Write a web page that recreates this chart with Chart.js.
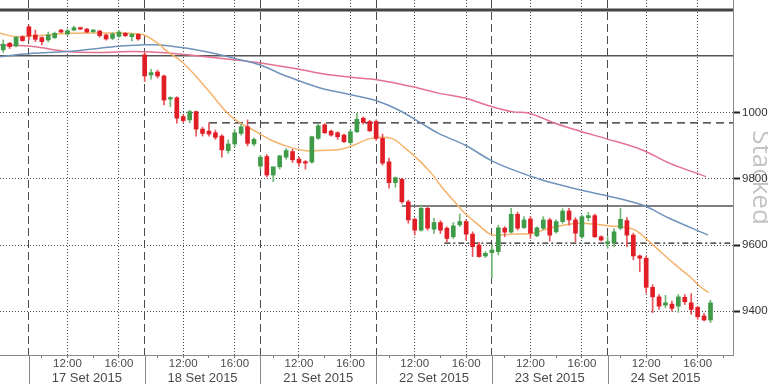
<!DOCTYPE html>
<html><head><meta charset="utf-8">
<script src="https://cdn.jsdelivr.net/npm/chart.js@4.4.0/dist/chart.umd.min.js"></script>
<style>html,body{margin:0;padding:0;background:#fff;overflow:hidden}#wrap{width:768px;height:384px;position:relative}canvas{display:block}</style>
</head><body>
<div id="wrap"><canvas id="c"></canvas></div>
<script>
// ---- data ----
const dayLabels = ['17 Set 2015','18 Set 2015','21 Set 2015','22 Set 2015','23 Set 2015','24 Set 2015'];
const timeLabels = ['12:00','16:00'];
const minorTimes = ['10:00','14:00'];
const yTickValues = [9400, 9600, 9800, 10000];
const leadCandles = 4; // 16 Set 16:00-17:30 visible before first day

const open = [10191,10211,10203,10231,
 10261,10236,10228,10221,10228,10251,10239,10251,10258,10254,10246,10248,10236,10226,10232,10241,10231,10238,
 10176,10115,10124,10112,10042,10046,9989,9979,10004,9951,9945,9940,9930,9886,9906,9938,9958,9906,
 9839,9868,9812,9837,9866,9883,9860,9852,9851,9923,9964,9945,9940,9933,9910,9943,9984,9974,
 9974,9923,9852,9789,9799,9731,9678,9645,9711,9648,9668,9651,9625,9661,9671,9633,9600,9567,
 9577,9580,9651,9639,9693,9653,9679,9628,9651,9676,9640,9671,9703,9676,9625,9683,9689,9625,
 9604,9607,9651,9674,9630,9567,9560,9472,9443,9418,9421,9415,9442,9425,9411,9385,9373];
const high = [10221,10214,10233,10234,
 10264,10251,10231,10245,10245,10253,10254,10263,10260,10256,10253,10250,10239,10243,10250,10244,10241,10240,
 10181,10132,10130,10115,10049,10049,9994,10008,10006,9957,9970,9948,9934,9918,9950,9966,9979,9925,
 9872,9874,9820,9872,9892,9890,9866,9856,9930,9966,9968,9948,9943,9936,9948,9999,9988,9978,
 9979,9936,9863,9806,9803,9736,9682,9721,9715,9681,9674,9655,9668,9694,9676,9640,9608,9580,
 9600,9660,9656,9711,9700,9686,9686,9655,9686,9681,9676,9710,9711,9683,9691,9699,9694,9628,
 9625,9650,9711,9683,9636,9570,9566,9480,9450,9448,9430,9450,9450,9453,9415,9393,9433];
const low = [10183,10195,10200,10217,
 10221,10216,10206,10215,10225,10243,10235,10249,10252,10243,10243,10229,10220,10222,10229,10231,10218,10220,
 10095,10102,10106,10024,10019,9969,9971,9970,9930,9930,9930,9920,9866,9878,9898,9933,9900,9900,
 9830,9806,9792,9830,9860,9850,9838,9830,9848,9920,9938,9930,9920,9910,9906,9940,9966,9943,
 9917,9842,9772,9775,9726,9666,9630,9642,9645,9635,9635,9610,9620,9656,9615,9565,9563,9562,
 9500,9570,9625,9636,9645,9650,9620,9625,9646,9612,9636,9666,9660,9610,9620,9673,9623,9612,
 9590,9595,9646,9595,9555,9519,9454,9395,9405,9410,9400,9396,9420,9390,9375,9370,9365];
const close = [10208,10201,10229,10219,
 10233,10223,10216,10236,10241,10245,10249,10258,10254,10245,10251,10234,10224,10239,10245,10234,10238,10224,
 10112,10122,10112,10039,10046,9984,9977,10004,9951,9938,9936,9926,9888,9906,9940,9958,9908,9920,
 9866,9812,9837,9870,9886,9858,9849,9848,9928,9961,9940,9933,9928,9913,9943,9981,9971,9946,
 9923,9848,9789,9804,9731,9676,9645,9711,9651,9668,9645,9620,9658,9671,9633,9595,9565,9575,
 9585,9652,9639,9693,9651,9676,9636,9652,9676,9630,9671,9703,9676,9636,9686,9689,9625,9615,
 9610,9640,9678,9630,9567,9560,9472,9443,9415,9425,9408,9443,9428,9405,9383,9373,9425];

// moving averages: [candle position, value]
const maOrange = [[-0.5,10241],[1.8,10231],[4,10232],[10.4,10241],[19.7,10241],[21.9,10236],[24.4,10206],[25.2,10191],[28,10151],
 [31.8,10070],[34.9,9999],[36.9,9969],[38.9,9948],[41.6,9918],[44.3,9898],[46.8,9886],[49,9886],[52.5,9890],[54.6,9903],[57.2,9923],
 [60.4,9923],[62.4,9895],[64.6,9858],[66.6,9817],[68.2,9776],[70.2,9731],[71.8,9696],[73.9,9661],[75.7,9633],[76.8,9630],
 [79.1,9633],[82.2,9635],[84.9,9651],[88,9663],[90,9666],[92.1,9663],[94.3,9658],[96.3,9655],[98.3,9645],[100.5,9610],
 [102.5,9575],[104.6,9539],[106.8,9504],[108.3,9476],[109.7,9456]];
const maBlue = [[-0.5,10170],[2.1,10176],[4.6,10181],[9.9,10186],[15,10196],[18.2,10203],[21.3,10206],[24.4,10206],[28.6,10196],
 [32.7,10181],[35.8,10166],[40,10145],[43.6,10115],[48.9,10078],[54.1,10055],[57.7,10039],[61.5,10009],[64.6,9974],[67.7,9938],
 [71.8,9903],[75.7,9858],[79.1,9829],[83.8,9797],[88.5,9773],[93.2,9752],[99.4,9721],[103.6,9681],[109.6,9630]];
const maPink = [[-0.5,10206],[4.6,10201],[9.9,10186],[15,10183],[20.2,10186],[24.4,10183],[28.6,10176],[35.8,10161],[40,10151],
 [45.8,10133],[49.9,10118],[54.1,10108],[58.3,10100],[63.5,10080],[67.7,10060],[71.8,10045],[75.7,10021],[79.1,10004],[81.8,9999],
 [85.8,9969],[90,9943],[93.6,9923],[99.4,9888],[103.6,9848],[109.3,9807]];

// horizontal study lines: value and starting candle position
const levelValues = [10312, 10173, 9718, 9970, 9606];
const levelStarts = [-0.5, -0.5, 62, 32, 68.6];

// ---- helpers ----
const slotsPerDay = 18;
function slot(d, hhmm){ const p = hhmm.split(':').map(Number); return leadCandles + d*slotsPerDay + (p[0]-9)*2 + (p[1]>=30?1:0); }
const xMax = 113.5;
const boundaryTicks = dayLabels.map((_,d)=>slot(d,'09:00'));
const dateTicks = dayLabels.map((_,d)=>slot(d,'13:30'));
const timeTickMap = {};
dayLabels.forEach((_,d)=>timeLabels.forEach(t=>{ timeTickMap[slot(d,t)] = t; }));
const minorTicks = [];
dayLabels.forEach((_,d)=>minorTimes.forEach(t=>minorTicks.push(slot(d,t))));
minorTicks.push(slot(dayLabels.length-1,'18:00'));
const dateTickMap = {}; dateTicks.forEach((v,d)=>{ dateTickMap[v] = dayLabels[d]; });
const xTickVals = [...new Set([...boundaryTicks, ...dateTicks, ...Object.keys(timeTickMap).map(Number), ...minorTicks])].sort((a,b)=>a-b);

const RED = '#e11d25', GREEN = '#3f9b47';
const RED_W = '#e8545a', GREEN_W = '#6fb774';
const up = i => close[i] >= open[i];

const bodyData = open.map((o,i)=>({x:i, y:[o, close[i]]}));
const wickData = low.map((l,i)=>({x:i, y:[l, high[i]]}));
const toXY = arr => arr.map(p=>({x:p[0], y:p[1]}));

const levelStyles = [
  {color:'#444', width:3, dash:[]},
  {color:'#555', width:1.5, dash:[]},
  {color:'#555', width:1.5, dash:[]},
  {color:'#222', width:1.2, dash:[8,5]},
  {color:'#222', width:1.2, dash:[6,3,2,3]}
];
const levelSets = levelValues.map((v,k)=>({
  type:'line', data:[{x:levelStarts[k], y:v},{x:xMax, y:v}],
  borderColor:levelStyles[k].color, borderWidth:levelStyles[k].width, borderDash:levelStyles[k].dash,
  pointRadius:0, fill:false, order:5
}));

const FONT = "'Liberation Sans Narrow', 'Liberation Sans', Arial, sans-serif";

const separators = {
  id:'separators',
  afterDraw(chart){
    const xs = chart.scales.x, ca = chart.chartArea, ctx = chart.ctx;
    ctx.save(); ctx.strokeStyle = '#8a8a8a'; ctx.lineWidth = 1;
    boundaryTicks.forEach(v=>{
      const px = Math.round(xs.getPixelForValue(v)) + 0.5;
      ctx.beginPath(); ctx.moveTo(px, ca.bottom); ctx.lineTo(px, chart.height); ctx.stroke();
    });
    ctx.restore();
  }
};

new Chart(document.getElementById('c'), {
  type:'bar',
  data:{ datasets:[
    {type:'bar', data:bodyData, backgroundColor:c=>up(c.dataIndex)?GREEN:RED, barThickness:4, grouped:false, order:1, minBarLength:1.5, borderWidth:0},
    {type:'bar', data:wickData, backgroundColor:c=>up(c.dataIndex)?GREEN_W:RED_W, barThickness:1, grouped:false, order:2, borderWidth:0},
    {type:'line', data:toXY(maOrange), borderColor:'#f4b26a', borderWidth:1.5, pointRadius:0, tension:0.35, fill:false, order:3},
    {type:'line', data:toXY(maBlue), borderColor:'#6f93bb', borderWidth:1.5, pointRadius:0, tension:0.35, fill:false, order:3},
    {type:'line', data:toXY(maPink), borderColor:'#e5708f', borderWidth:1.5, pointRadius:0, tension:0.35, fill:false, order:3},
    ...levelSets
  ]},
  options:{
    responsive:true, maintainAspectRatio:false, animation:false, devicePixelRatio:1,
    layout:{padding:0},
    plugins:{legend:{display:false}, tooltip:{enabled:false}},
    scales:{
      x:{
        type:'linear', min:-0.5, max:xMax, offset:false, position:'bottom',
        afterBuildTicks:s=>{ s.ticks = xTickVals.map(v=>({value:v})); },
        afterFit:s=>{ s.height = 29; s.paddingLeft = 0; s.paddingRight = 0; },
        grid:{
          offset:false,
          color:c=>{ const v=c.tick&&c.tick.value; return (boundaryTicks.includes(v)||timeTickMap[v]) ? '#4a4a4a' : 'rgba(0,0,0,0)'; },
          lineWidth:1, drawTicks:true, tickLength:3,
          tickColor:c=>{ const v=c.tick&&c.tick.value; return (minorTicks.includes(v)||timeTickMap[v]) ? '#777' : 'rgba(0,0,0,0)'; }
        },
        border:{display:true, color:'#8a8a8a', width:1,
          dash:c=>{ const v=c.tick&&c.tick.value; return boundaryTicks.includes(v) ? [8,4] : [1,2]; }},
        ticks:{
          autoSkip:false, maxRotation:0, minRotation:0, padding:0, color:'#4a4a4a',
          font:c=>{ const v=c.tick&&c.tick.value; return dateTickMap[v] ? {family:FONT, size:13, lineHeight:1.05} : {family:FONT, size:11.5, lineHeight:1.1}; },
          callback:v=>{ if (timeTickMap[v]) return timeTickMap[v]; if (dateTickMap[v]) return ['', dateTickMap[v]]; return ''; }
        }
      },
      y:{
        type:'linear', position:'right', min:9267, max:10342,
        afterBuildTicks:s=>{ s.ticks = yTickValues.map(v=>({value:v})); },
        afterFit:s=>{ s.width = 35; s.paddingTop = 0; s.paddingBottom = 0; },
        grid:{color:'#4a4a4a', lineWidth:1, drawTicks:true, tickLength:7, tickColor:'#222', tickWidth:2},
        border:{display:true, color:'#8a8a8a', width:1, dash:[1,2]},
        ticks:{padding:2, color:'#333', font:{family:FONT, size:11.5}, callback:v=>String(v)},
        title:{display:true, text:'Stacked', color:'#c4c4c4', font:{family:"'Open Sans', sans-serif", size:26, lineHeight:0.6}, padding:0, align:'center'}
      }
    }
  },
  plugins:[separators]
});
</script>
</body></html>
